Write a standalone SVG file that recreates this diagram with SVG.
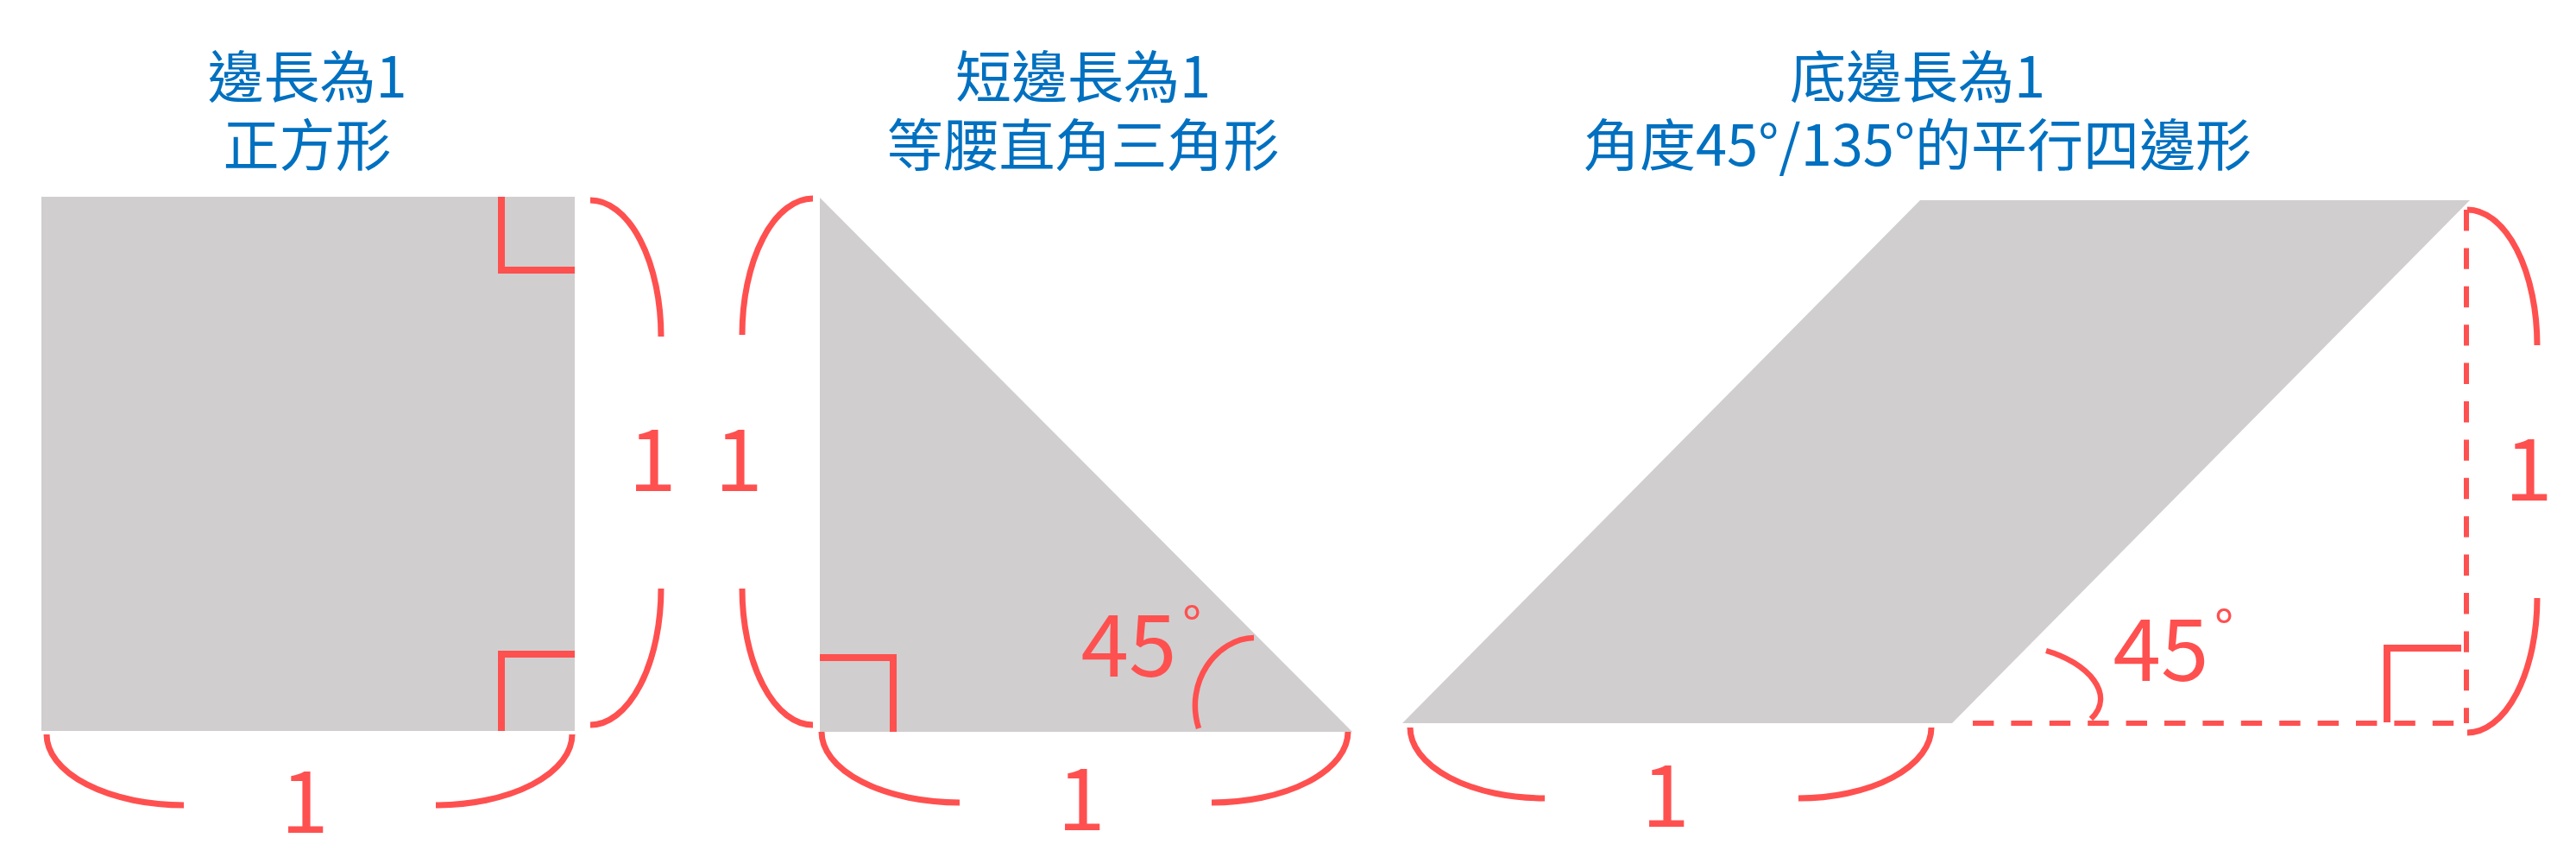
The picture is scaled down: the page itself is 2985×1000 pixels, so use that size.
<svg xmlns="http://www.w3.org/2000/svg" width="2985" height="1000" viewBox="0 0 2985 1000">
  <style>
    .shape { fill: #D0CECF; stroke: none; }
    .title { fill: #0070C0; font-family: 'Noto Sans CJK TC', 'Noto Sans CJK SC', 'Noto Sans', sans-serif; font-size: 65px; text-anchor: middle; }
    .lbl { fill: #FF5050; font-family: 'Noto Sans CJK TC', 'Noto Sans', sans-serif; font-size: 100px; text-anchor: middle; }
    .deg { fill: #FF5050; font-family: 'Noto Sans CJK TC', 'Noto Sans', sans-serif; font-size: 60px; text-anchor: middle; }
    .br { fill: none; stroke: #FF5050; stroke-width: 7; }
    .ra { fill: none; stroke: #FF5050; stroke-width: 8; stroke-linejoin: miter; }
    .ang { fill: none; stroke: #FF5050; stroke-width: 6.5; }
    .dash { fill: none; stroke: #FF5050; stroke-width: 6; stroke-dasharray: 24.4 20; }
  </style>
  <rect width="2985" height="1000" fill="#FFFFFF"/>

  <g id="square">
    <rect class="shape" x="48" y="228" width="618" height="619"/>
    <path class="ra" d="M581,228 V313 H666"/>
    <path class="ra" d="M581,847 V758 H666"/>
    <text class="title" x="356" y="113">邊長為1<tspan x="356" dy="79">正方形</tspan></text>
  </g>

  <g id="triangle">
    <polygon class="shape" points="950,229 950,848 1567,848"/>
    <path class="ra" d="M950,762 H1035 V848"/>
    <path class="ang" d="M1453,739 C1410,740 1372,790 1389,844"/>
    <text class="lbl" x="1308" y="784">45</text>
    <text class="deg" x="1381" y="747">°</text>
    <text class="title" x="1255" y="113">短邊長為1<tspan x="1255" dy="79">等腰直角三角形</tspan></text>
  </g>

  <g id="parallelogram">
    <polygon class="shape" points="1625,838 2225,232 2862,232 2262,838"/>
    <path class="dash" d="M2858,243 V838"/>
    <path class="dash" d="M2286,838 H2860"/>
    <path class="ra" d="M2766,837 V751 H2852"/>
    <path class="ang" d="M2371,754 C2420,768 2452,805 2423,833"/>
    <text class="lbl" x="2504" y="789">45</text>
    <text class="deg" x="2577" y="751">°</text>
    <text class="title" x="2222" y="113">底邊長為1<tspan x="2222" dy="79">角度45°/135°的平行四邊形</tspan></text>
  </g>

  <g id="dimension-brackets">
    <path class="br" d="M54,851 A159,82 0 0 0 213,933"/>
    <path class="br" d="M505,933 A158,82 0 0 0 663,851"/>
    <path class="br" d="M684,232 A82,158 0 0 1 766,390"/>
    <path class="br" d="M766,682 A82,158 0 0 1 684,840"/>
    <path class="br" d="M942,230 A82,158 0 0 0 860,388"/>
    <path class="br" d="M860,682 A82,158 0 0 0 942,840"/>
    <path class="br" d="M952,848 A160,82 0 0 0 1112,930"/>
    <path class="br" d="M1404,930 A158,82 0 0 0 1562,848"/>
    <path class="br" d="M1634,843 A156,82 0 0 0 1790,925"/>
    <path class="br" d="M2084,925 A154,82 0 0 0 2238,843"/>
    <path class="br" d="M2859,243 A81,157 0 0 1 2940,400"/>
    <path class="br" d="M2940,693 A81,156 0 0 1 2859,849"/>
  </g>

  <g id="dimension-labels">
    <text class="lbl" x="756" y="569">1</text>
    <text class="lbl" x="856" y="569">1</text>
    <text class="lbl" x="353" y="965">1</text>
    <text class="lbl" x="1253" y="962">1</text>
    <text class="lbl" x="1930" y="958">1</text>
    <text class="lbl" x="2930" y="580">1</text>
  </g>
</svg>
